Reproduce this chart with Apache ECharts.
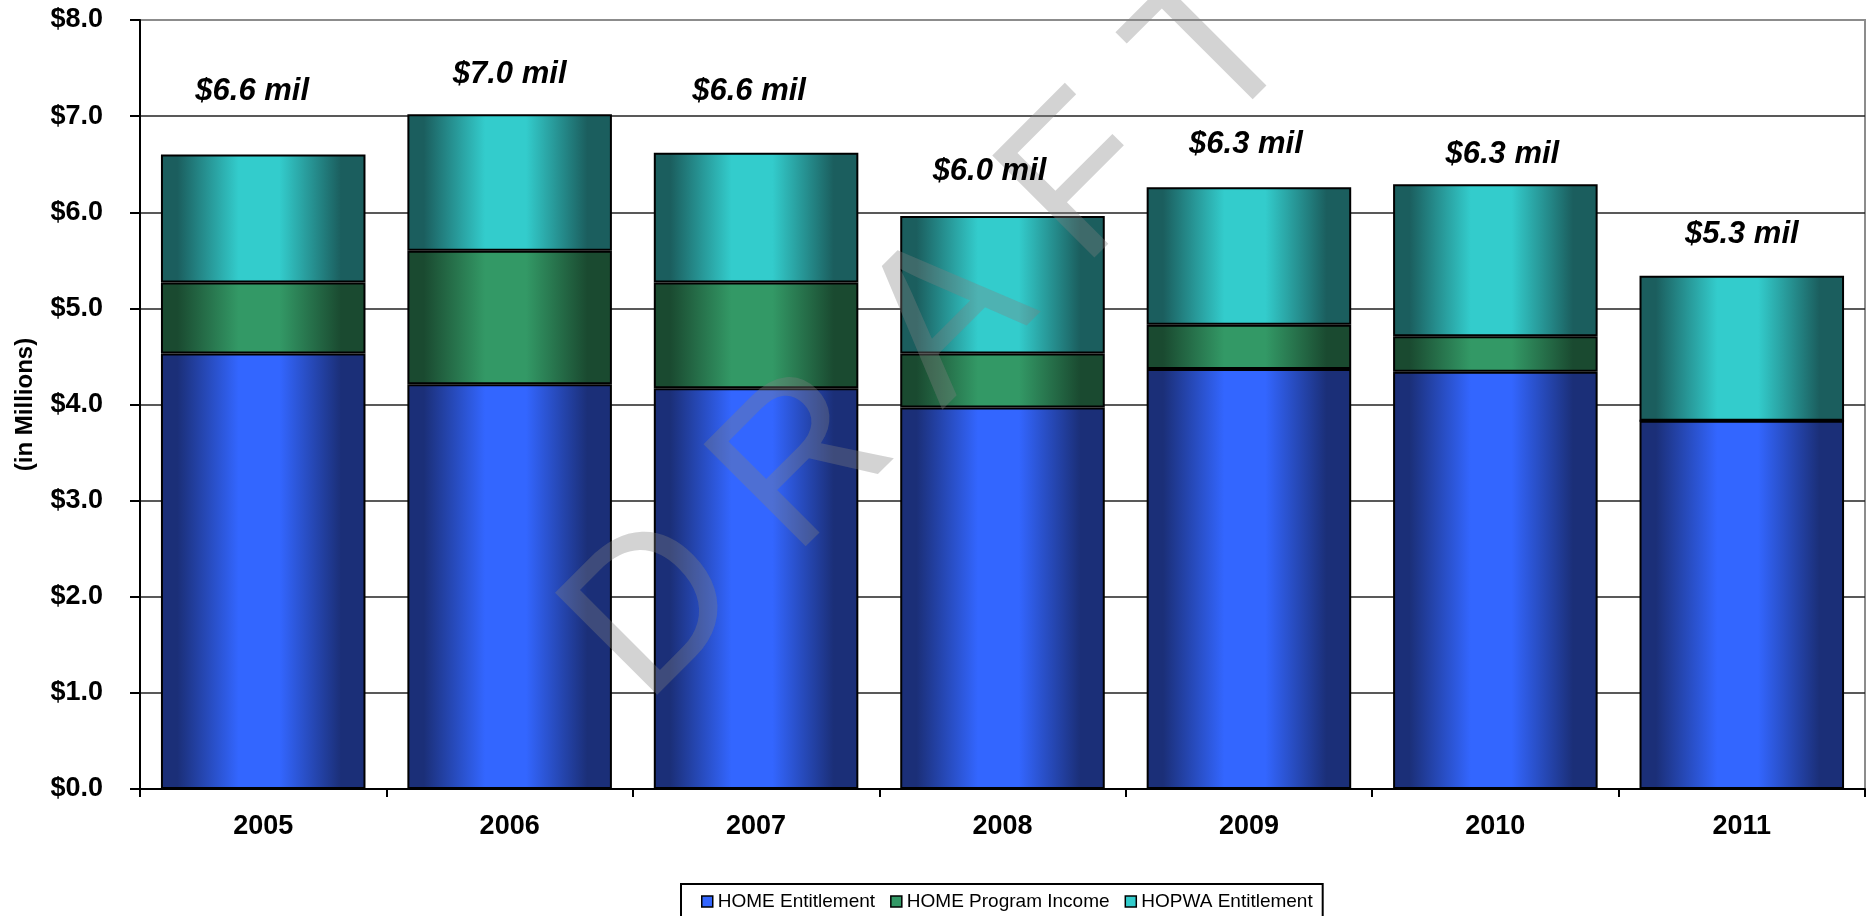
<!DOCTYPE html>
<html>
<head>
<meta charset="utf-8">
<title>HOME and HOPWA Funding, 2005-2011</title>
<script src="https://cdn.jsdelivr.net/npm/echarts@6/dist/echarts.min.js"></script>
<style>
  html, body { margin: 0; padding: 0; background: #ffffff; }
  #chart { width: 1869px; height: 916px; }
</style>
</head>
<body>
<div id="chart"></div>
<script>
// Funding by year, in millions of dollars
const years = ['2005', '2006', '2007', '2008', '2009', '2010', '2011'];
const homeEntitlement = [4.53, 4.21, 4.17, 3.97, 4.37, 4.34, 3.83];
const homeProgramIncome = [0.74, 1.39, 1.10, 0.56, 0.46, 0.37, 0.00];
const hopwaEntitlement = [1.33, 1.42, 1.35, 1.43, 1.43, 1.58, 1.51];
const yTicks = [0, 1, 2, 3, 4, 5, 6, 7, 8];

// Hand placement of the yearly total captions, [dx, dy] in pixels
const totalLabelShift = [[-11, -47], [0, -24], [-7, -45], [-13, -29], [-3, -27], [7, -14], [0, -25]];

const totals = years.map((_, i) =>
  Math.round((homeEntitlement[i] + homeProgramIncome[i] + hopwaEntitlement[i]) * 100) / 100);

const FONT = '"Liberation Sans", Arial, Helvetica, sans-serif';

// Horizontal "cylinder" shading: dark edges, bright middle
function shade(dark, bright) {
  return {
    type: 'linear', x: 0, y: 0, x2: 1, y2: 0,
    colorStops: [
      { offset: 0, color: dark },
      { offset: 0.08, color: dark },
      { offset: 0.38, color: bright },
      { offset: 0.58, color: bright },
      { offset: 0.88, color: dark },
      { offset: 1, color: dark }
    ]
  };
}

const palette = {
  home: { dark: '#1b2f78', bright: '#3366ff' },
  income: { dark: '#1a4a30', bright: '#339966' },
  hopwa: { dark: '#1b5e5e', bright: '#33cccc' }
};

function stackSeries(name, values, pal) {
  return {
    name: name,
    type: 'bar',
    stack: 'total',
    barWidth: '83%',
    data: values,
    itemStyle: {
      color: shade(pal.dark, pal.bright),
      borderColor: '#000000',
      borderWidth: 2
    },
    emphasis: { disabled: true },
    z: 2
  };
}

const chart = echarts.init(document.getElementById('chart'), null, { renderer: 'canvas' });

const gridLineColors = yTicks.map(v => (v === 8 ? '#8c8c8c' : '#222222'));

chart.setOption({
  animation: false,
  backgroundColor: '#ffffff',
  textStyle: { fontFamily: FONT },
  grid: {
    left: 140, right: 4, top: 20, bottom: 127,
    show: true,
    backgroundColor: '#ffffff',
    borderColor: '#8c8c8c',
    borderWidth: 2,
    containLabel: false
  },
  legend: {
    data: [
      { name: 'HOME Entitlement', itemStyle: { color: palette.home.bright, borderColor: '#000', borderWidth: 1.5 } },
      { name: 'HOME Program Income', itemStyle: { color: palette.income.bright, borderColor: '#000', borderWidth: 1.5 } },
      { name: 'HOPWA Entitlement', itemStyle: { color: palette.hopwa.bright, borderColor: '#000', borderWidth: 1.5 } }
    ],
    left: 681,
    top: 884,
    orient: 'horizontal',
    icon: 'rect',
    itemWidth: 11,
    itemHeight: 11,
    itemGap: 15,
    padding: [8, 10, 30, 20],
    borderColor: '#000000',
    borderWidth: 2,
    backgroundColor: '#ffffff',
    selectedMode: false,
    textStyle: { fontFamily: FONT, fontSize: 19, color: '#000000', padding: [0, 0, 0, 0] }
  },
  xAxis: {
    type: 'category',
    data: years,
    boundaryGap: true,
    axisLine: { show: true, lineStyle: { color: '#000000', width: 2 } },
    axisTick: { show: true, length: 8, lineStyle: { color: '#000000', width: 2 } },
    axisLabel: {
      fontFamily: FONT, fontSize: 27, fontWeight: 'bold', color: '#000000', margin: 24
    },
    splitLine: { show: false }
  },
  yAxis: {
    type: 'value',
    min: yTicks[0],
    max: yTicks[yTicks.length - 1],
    interval: 1,
    name: '(in Millions)',
    nameLocation: 'middle',
    nameGap: 103,
    nameTextStyle: { fontFamily: FONT, fontSize: 24, fontWeight: 'bold', color: '#000000' },
    axisLine: { show: true, lineStyle: { color: '#000000', width: 2 } },
    axisTick: { show: true, length: 10, lineStyle: { color: '#000000', width: 2 } },
    axisLabel: {
      fontFamily: FONT, fontSize: 27, fontWeight: 'bold', color: '#000000', margin: 37,
      formatter: v => '$' + v.toFixed(1)
    },
    splitLine: { show: true, lineStyle: { color: gridLineColors, width: 1.5 } }
  },
  graphic: [
    {
      type: 'text',
      x: 934,
      y: 336,
      rotation: Math.PI / 4,
      z: 5,
      silent: true,
      style: {
        text: 'D R A F T',
        fontFamily: FONT,
        fontSize: 210,
        fill: 'rgba(128,128,128,0.35)',
        align: 'center',
        verticalAlign: 'middle'
      }
    }
  ],
  series: [
    stackSeries('HOME Entitlement', homeEntitlement, palette.home),
    stackSeries('HOME Program Income', homeProgramIncome, palette.income),
    stackSeries('HOPWA Entitlement', hopwaEntitlement, palette.hopwa),
    {
      name: 'Total',
      type: 'scatter',
      silent: true,
      symbolSize: 1,
      itemStyle: { color: 'rgba(0,0,0,0)', opacity: 1 },
      z: 10,
      data: totals.map((t, i) => ({
        value: t,
        label: { offset: totalLabelShift[i] }
      })),
      label: {
        show: true,
        position: 'top',
        distance: 0,
        fontFamily: FONT,
        fontSize: 31,
        fontWeight: 'bold',
        fontStyle: 'italic',
        color: '#000000',
        opacity: 1,
        textBorderWidth: 0,
        formatter: p => '$' + p.value.toFixed(1) + ' mil'
      }
    }
  ]
});
</script>
</body>
</html>
